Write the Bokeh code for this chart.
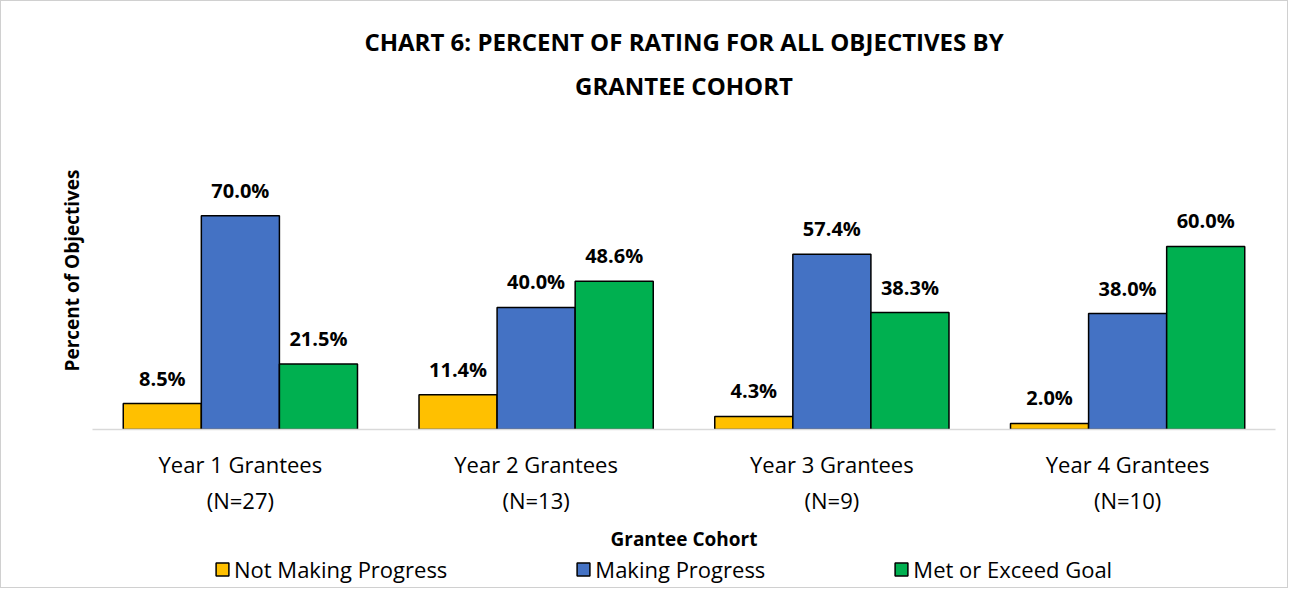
from bokeh.plotting import figure
from bokeh.layouts import column
from bokeh.models import (FactorRange, Range1d, Legend, LegendItem, ColumnDataSource, Title,
                          FixedTicker)
from bokeh.transform import dodge
from bokeh.core.properties import value
from bokeh.embed import file_html
from bokeh.resources import INLINE

cohorts = ["Year 1 Grantees\n(N=27)", "Year 2 Grantees\n(N=13)", "Year 3 Grantees\n(N=9)", "Year 4 Grantees\n(N=10)"]
series_names = ["Not Making Progress", "Making Progress", "Met or Exceed Goal"]
not_making = [8.5, 11.4, 4.3, 2.0]
making = [70.0, 40.0, 57.4, 38.0]
met_exceed = [21.5, 48.6, 38.3, 60.0]
colors = ["#FFC000", "#4472C4", "#00B050"]

FONT = "Open Sans"
W = 1286

p = figure(width=W, height=553, x_range=FactorRange(*cohorts), y_range=Range1d(0, 104.2),
           output_backend="svg", toolbar_location=None,
           min_border_left=91, min_border_right=12, min_border_top=110, min_border_bottom=10)
p.outline_line_color = None
p.xgrid.visible = False
p.ygrid.visible = False

t2 = Title(text="GRANTEE COHORT", align="center",
           text_font=FONT, text_font_size="24px", text_font_style="bold", text_color="#000000",
           standoff=19)
t1 = Title(text="CHART 6: PERCENT OF RATING FOR ALL OBJECTIVES BY", align="center",
           text_font=FONT, text_font_size="24px", text_font_style="bold", text_color="#000000",
           standoff=0)
p.add_layout(t2, "above")
p.add_layout(t1, "above")

src = ColumnDataSource(dict(cohort=cohorts, s0=not_making, s1=making, s2=met_exceed,
                            l0=[f"{v:.1f}%" for v in not_making],
                            l1=[f"{v:.1f}%" for v in making],
                            l2=[f"{v:.1f}%" for v in met_exceed]))
w = 0.264
offsets = [-w, 0.0, w]
for i, off in enumerate(offsets):
    p.vbar(x=dodge("cohort", off, range=p.x_range), top=f"s{i}", width=w, bottom=0,
           source=src, fill_color=colors[i], line_color="#000000", line_width=1.5)
    p.text(x=dodge("cohort", off, range=p.x_range), y=f"s{i}", text=f"l{i}", source=src,
           text_align="center", text_baseline="bottom", y_offset=-12,
           text_font=value(FONT), text_font_size="20px", text_font_style="bold", text_color="#000000")

xa = p.xaxis[0]
xa.axis_line_color = "#d9d9d9"
xa.axis_line_width = 1.5
xa.major_tick_line_color = None
xa.minor_tick_line_color = None
xa.major_label_text_font = FONT
xa.major_label_text_font_size = "22px"
xa.major_label_text_color = "#000000"
xa.major_label_standoff = 13
xa.axis_label = "Grantee Cohort"
xa.axis_label_text_font = FONT
xa.axis_label_text_font_size = "19px"
xa.axis_label_text_font_style = "bold"
xa.axis_label_text_color = "#000000"
xa.axis_label_standoff = 8

ya = p.yaxis[0]
ya.ticker = FixedTicker(ticks=[])
ya.axis_line_color = None
ya.major_tick_line_color = None
ya.minor_tick_line_color = None
ya.major_label_standoff = 0
ya.axis_label = "Percent of Objectives"
ya.axis_label_text_font = FONT
ya.axis_label_text_font_size = "19px"
ya.axis_label_text_font_style = "bold"
ya.axis_label_text_color = "#000000"
ya.axis_label_standoff = 8

# legend strip below the chart: its renderers are zero-size bars, so only swatches show
lg = figure(width=W, height=33, x_range=FactorRange(*cohorts), y_range=Range1d(0, 100),
            output_backend="svg", toolbar_location=None,
            x_axis_location=None, y_axis_location=None,
            min_border_left=0, min_border_right=0, min_border_top=0, min_border_bottom=0)
lg.xgrid.visible = False
lg.ygrid.visible = False
lg.outline_line_color = None
series_vals = [not_making, making, met_exceed]
items = []
for i in range(3):
    s = ColumnDataSource(dict(x=cohorts, top=series_vals[i]))
    r = lg.vbar(x="x", top="top", bottom="top", width=0, source=s,
                fill_color=colors[i], line_color="#000000", line_width=1.5)
    items.append(LegendItem(label=series_names[i], renderers=[r]))
legend = Legend(items=items, orientation="horizontal", location=(122, 3),
                label_text_font=FONT, label_text_font_size="22px", label_text_color="#000000",
                glyph_width=16, glyph_height=16, label_standoff=4, spacing=128,
                border_line_color=None, background_fill_alpha=0, padding=0, margin=0)
lg.add_layout(legend, "center")

layout = column(p, lg, spacing=0)
layout.styles = {"border": "1px solid #d0d0d0"}

open("out.html", "w").write(file_html(layout, INLINE))
